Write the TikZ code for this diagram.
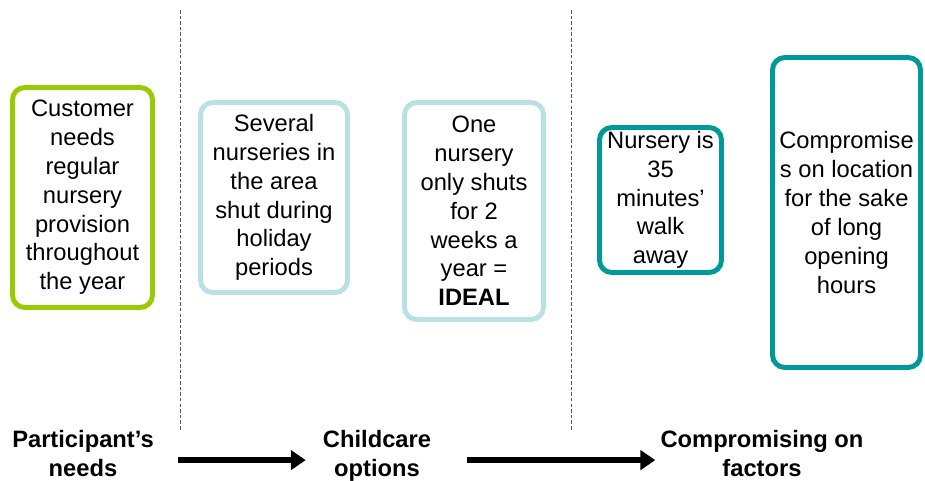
\documentclass[tikz,border=0pt]{standalone}
\usepackage{fontspec}
\setmainfont{Liberation Sans}
\usetikzlibrary{arrows.meta}
\definecolor{needgreen}{RGB}{153,204,0}
\definecolor{optblue}{RGB}{185,224,226}
\definecolor{factteal}{RGB}{0,153,153}
\tikzset{
	box/.style={draw, line width=2.8pt, rounded corners=7pt, align=center, inner sep=0pt,
		font=\fontsize{13.5}{16.4}\selectfont},
	stage/.style={align=center, inner sep=0pt, text depth=20pt, font=\fontsize{13.5}{17}\selectfont\bfseries},
	flow/.style={line width=3.4pt, -{Triangle[length=8.5pt,width=11pt]}},
	divider/.style={gray!70!black, line width=0.5pt, dash pattern=on 2pt off 1.2pt}
}
\begin{document}
\begin{tikzpicture}[x=0.02cm, y=-0.02cm]
	\useasboundingbox (0,0) rectangle (925,480);
	% Trennlinien
	\draw [divider] (180,10) -- (180,430);
	\draw [divider] (571,10) -- (571,430);
	% Kaesten
	\node [box, draw=needgreen, minimum width=2.8cm, minimum height=4.4cm] (need) at (82.5,197.5)
		{Customer\\needs\\regular\\nursery\\provision\\throughout\\the year};
	\node [box, draw=optblue, minimum width=2.94cm, minimum height=3.8cm] (several) at (274,197.5)
		{Several\\nurseries in\\the area\\shut during\\holiday\\periods};
	\node [box, draw=optblue, minimum width=2.78cm, minimum height=4.34cm] (ideal) at (474,211)
		{One\\nursery\\only shuts\\for 2\\weeks a\\year =\\\textbf{IDEAL}};
	\node [box, draw=factteal, minimum width=2.44cm, minimum height=2.9cm] (walk) at (660.5,200)
		{Nursery is\\35\\minutes'\\walk\\away};
	\node [box, draw=factteal, minimum width=2.96cm, minimum height=6.2cm] (location) at (846.5,212.5)
		{Compromise\\s on location\\for the sake\\of long\\opening\\hours};
	% Labels unten
	\node [stage] (needs) at (83,471) {Participant's\\needs};
	\node [stage] (options) at (377,471) {Childcare\\options};
	\node [stage] (factors) at (762,471) {Compromising on\\factors};
	% Pfeile
	\draw [flow, shorten <=13.6pt, shorten >=9.6pt] ([yshift=6.2pt]needs.east) -- ([yshift=6.2pt]options.west);
	\draw [flow, shorten <=20pt, shorten >=2.8pt] ([yshift=6.2pt]options.east) -- ([yshift=6.2pt]factors.west);
\end{tikzpicture}
\end{document}
